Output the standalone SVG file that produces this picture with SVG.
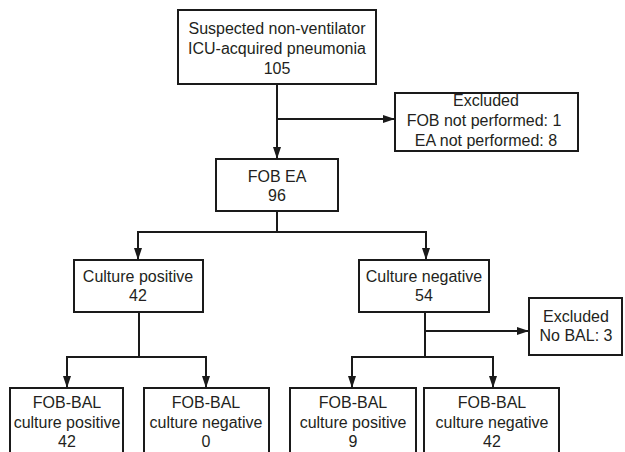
<svg xmlns="http://www.w3.org/2000/svg" width="625" height="452" viewBox="0 0 625 452">
<defs>
<marker id="ah" viewBox="0 0 12 8" refX="12" refY="4" markerWidth="12" markerHeight="8" markerUnits="userSpaceOnUse" orient="auto">
<path d="M0,0 L12,4 L0,8 Z" fill="#1a1a1a"/>
</marker>
<style>
.box{fill:#fff;stroke:#1a1a1a;stroke-width:2}
.ln{fill:none;stroke:#1a1a1a;stroke-width:2}
.ar{fill:none;stroke:#1a1a1a;stroke-width:2;marker-end:url(#ah)}
text{font-family:"Liberation Sans",Arial,sans-serif;font-size:16px;fill:#231f20;text-anchor:middle}
</style>
</defs>
<rect width="625" height="452" fill="#fff"/>
<g id="connectors">
<line class="ar" x1="277" y1="84" x2="277" y2="159"/>
<line class="ar" x1="277" y1="119" x2="395" y2="119"/>
<line class="ln" x1="277" y1="211" x2="277" y2="232"/>
<polyline class="ln" points="138,232 426,232"/>
<line class="ar" x1="138" y1="231" x2="138" y2="260"/>
<line class="ar" x1="426" y1="231" x2="426" y2="260"/>
<line class="ln" x1="139" y1="312" x2="139" y2="357"/>
<polyline class="ln" points="67,357 206,357"/>
<line class="ar" x1="67" y1="356" x2="67" y2="388"/>
<line class="ar" x1="206" y1="356" x2="206" y2="388"/>
<line class="ln" x1="425" y1="312" x2="425" y2="357"/>
<line class="ar" x1="425" y1="331" x2="529" y2="331"/>
<polyline class="ln" points="352,357 493,357"/>
<line class="ar" x1="352" y1="356" x2="352" y2="388"/>
<line class="ar" x1="493" y1="356" x2="493" y2="388"/>
</g>
<g id="n_suspected">
<rect class="box" x="178" y="10" width="198" height="74"/>
<text x="277" y="34">Suspected non-ventilator</text>
<text x="277" y="54">ICU-acquired pneumonia</text>
<text x="277" y="74">105</text>
</g>
<g id="n_excluded1">
<rect class="box" x="395" y="93" width="183" height="58"/>
<text x="486" y="106">Excluded</text>
<text x="484" y="126">FOB not performed: 1</text>
<text x="486" y="146">EA not performed: 8</text>
</g>
<g id="n_fobea">
<rect class="box" x="216" y="159" width="122" height="52"/>
<text x="277" y="182">FOB EA</text>
<text x="277" y="201">96</text>
</g>
<g id="n_culpos">
<rect class="box" x="74" y="260" width="129" height="52"/>
<text x="138" y="282">Culture positive</text>
<text x="138" y="301">42</text>
</g>
<g id="n_culneg">
<rect class="box" x="359" y="260" width="130" height="52"/>
<text x="424" y="282">Culture negative</text>
<text x="424" y="301">54</text>
</g>
<g id="n_excluded2">
<rect class="box" x="529" y="298" width="93" height="57"/>
<text x="576" y="322">Excluded</text>
<text x="576" y="341">No BAL: 3</text>
</g>
<g id="n_bal1">
<rect class="box" x="10" y="388" width="113" height="80"/>
<text x="67" y="408">FOB-BAL</text>
<text x="67" y="428">culture positive</text>
<text x="67" y="447">42</text>
</g>
<g id="n_bal2">
<rect class="box" x="144" y="388" width="125" height="80"/>
<text x="206" y="408">FOB-BAL</text>
<text x="206" y="428">culture negative</text>
<text x="206" y="447">0</text>
</g>
<g id="n_bal3">
<rect class="box" x="290" y="388" width="126" height="80"/>
<text x="353" y="408">FOB-BAL</text>
<text x="353" y="428">culture positive</text>
<text x="353" y="447">9</text>
</g>
<g id="n_bal4">
<rect class="box" x="424" y="388" width="135" height="80"/>
<text x="492" y="408">FOB-BAL</text>
<text x="492" y="428">culture negative</text>
<text x="492" y="447">42</text>
</g>
</svg>
